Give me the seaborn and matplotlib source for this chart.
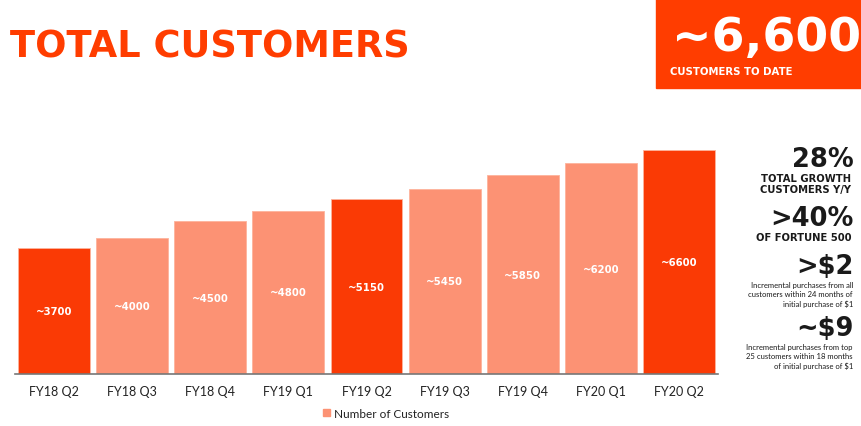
import matplotlib
matplotlib.use("Agg")
import matplotlib.pyplot as plt
import seaborn as sns
from matplotlib.patches import Patch, Rectangle

## Data
quarters = ['FY18 Q2', 'FY18 Q3', 'FY18 Q4', 'FY19 Q1', 'FY19 Q2',
            'FY19 Q3', 'FY19 Q4', 'FY20 Q1', 'FY20 Q2']
customers = [3700, 4000, 4500, 4800, 5150, 5450, 5850, 6200, 6600]
bar_labels = ['~3700', '~4000', '~4500', '~4800', '~5150',
              '~5450', '~5850', '~6200', '~6600']
highlight = [True, False, False, False, True, False, False, False, True]

stats = [('28%', ['TOTAL GROWTH', 'CUSTOMERS Y/Y']),
         ('>40%', ['OF FORTUNE 500']),
         ('>$2', ['Incremental purchases from all',
                  'customers within 24 months of',
                  'initial purchase of $1']),
         ('~$9', ['Incremental purchases from top',
                  '25 customers within 18 months',
                  'of initial purchase of $1'])]

DARK = '#FA3A05'
LIGHT = '#FC9274'
HEAVY = ['DejaVu Sans']

sns.set_theme(style='white')
plt.rcParams['font.family'] = ['Lato', 'DejaVu Sans']

fig = plt.figure(figsize=(8.61, 4.27), dpi=100)
ax = fig.add_axes([15 / 861, 1 - 375 / 427, 703 / 861, 235 / 427])

colors = [DARK if h else LIGHT for h in highlight]
sns.barplot(x=quarters, y=customers, hue=quarters, palette=colors,
            legend=False, width=0.92, saturation=1, ax=ax,
            edgecolor='#FDB39C', linewidth=0.6)

for cont, lab in zip(ax.containers, bar_labels):
    ax.bar_label(cont, labels=[lab], label_type='center', color='white',
                 fontsize=7.3, fontweight='bold', family=HEAVY)

ax.set_xlim(-0.5, 8.5)
ax.set_ylim(0, 6920)
ax.set_yticks([])
ax.set_xlabel('')
ax.set_ylabel('')
sns.despine(ax=ax, left=True)
ax.spines['bottom'].set_color('#777777')
ax.spines['bottom'].set_linewidth(1.2)
ax.tick_params(axis='x', length=0, pad=8, labelsize=9, labelcolor='#222222')

ax.legend(handles=[Patch(color=LIGHT, label='Number of Customers')],
          loc='center', bbox_to_anchor=(0.528, -0.166), frameon=False,
          fontsize=8.5, handlelength=0.6, handleheight=0.6, handletextpad=0.3,
          labelcolor='#222222', borderpad=0)

# title
fig.text(10 / 861, 1 - 57 / 427, 'TOTAL CUSTOMERS', color='#FF3D00',
         fontsize=26.5, fontweight='bold', family=HEAVY,
         ha='left', va='baseline')

# top right box
fig.patches.append(Rectangle((656 / 861, 1 - 89 / 427), 205 / 861, 89 / 427,
                             transform=fig.transFigure, color='#FF3D00',
                             zorder=0))
fig.text(861 / 861, 1 - 51 / 427, '~6,600', color='white', fontsize=34,
         fontweight='bold', family=HEAVY, ha='right', va='baseline')
fig.text(670 / 861, 1 - 75 / 427, 'CUSTOMERS TO DATE', color='white',
         fontsize=7.3, fontweight='bold', family=HEAVY,
         ha='left', va='baseline')

# right side stats
big_y = [167, 226, 274, 336]
sub_start = [182, 241, 288, 350]
for (big, lines), y, y0 in zip(stats, big_y, sub_start):
    fig.text(854 / 861, 1 - y / 427, big, color='#1A1A1A', fontsize=18.5,
             fontweight='bold', family=HEAVY, ha='right', va='baseline')
    caps = lines[0].isupper()
    for i, line in enumerate(lines):
        if caps:
            fig.text(851 / 861, 1 - (y0 + i * 11) / 427, line,
                     color='#1A1A1A', fontsize=7.2, fontweight='bold',
                     family=HEAVY, ha='right', va='baseline')
        else:
            fig.text(853 / 861, 1 - (y0 + i * 9.3) / 427, line,
                     color='#1A1A1A', fontsize=5.5, ha='right',
                     va='baseline')

fig.savefig('out.png', dpi=100)
